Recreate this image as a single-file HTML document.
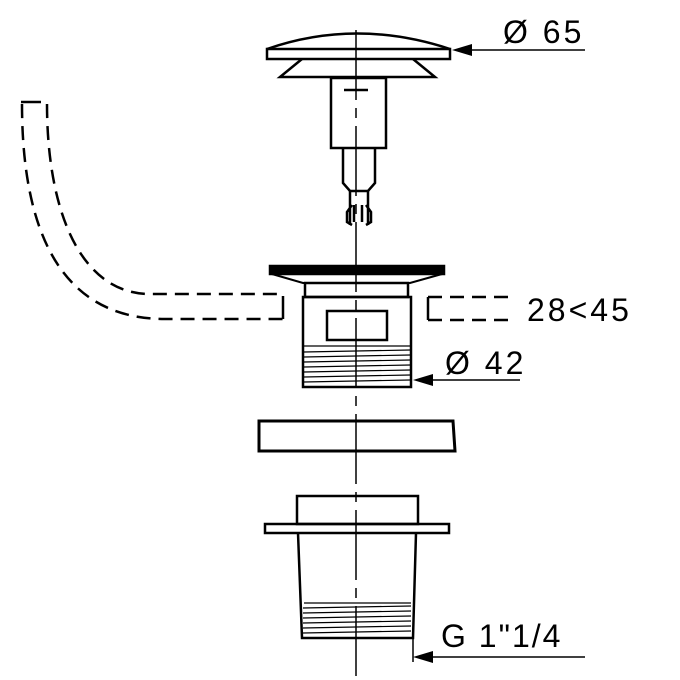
<html><head><style>body{margin:0;background:#fff}</style></head><body>
<svg width="680" height="680" viewBox="0 0 680 680" xmlns="http://www.w3.org/2000/svg" font-family="Liberation Sans, sans-serif">
<g fill="none" stroke="#000" stroke-width="2.5">
<g stroke-dasharray="14,8">
<path d="M22,104 C22,230 60,319 165,319 L283,319"/>
<path d="M47,104 C47,210 80,294 150,294 L283,294"/>
<path d="M283,296 L283,319" stroke-dasharray="none"/>
<path d="M21,102 L41,102" stroke-dasharray="none"/>
<path d="M428,297 L515,297 M428,320 L515,320"/>
<path d="M428,297 L428,320" stroke-dasharray="none"/>
</g>
<path d="M267,49 Q356,18 450,49" fill="#fff"/>
<rect x="267" y="49" width="183" height="10" fill="#fff"/>
<path d="M302,59 L280,77 L435,77 L413,59"/>
<rect x="331" y="78" width="55" height="70"/>
<path d="M344,90 L368,90"/>
<path d="M343,148 L343,183 L350,191 L368,191 L375,183 L375,148"/>
<path d="M350,191 L350,225 M368,191 L368,225 M352,205 L347,212 L347,222 L352,225 M366,205 L371,212 L371,222 L366,225 M354,205 L354,222 M362,205 L362,222"/>
<rect x="270" y="266" width="174" height="8" fill="#000"/>
<path d="M272,274 L303,283 L410,283 L442,274" stroke-width="2"/>
<rect x="305" y="283" width="103" height="14"/>
<rect x="303" y="297" width="108" height="90"/>
<rect x="327" y="311" width="60" height="29"/>
<g stroke-width="1.2"><path d="M304,346 L410,346 M304,352 L410,350 M304,357 L410,355 M304,362 L410,360 M304,367 L410,365 M304,372 L410,370 M304,377 L410,375 M304,382 L410,380"/></g>
<path d="M259,421 L453,421 L455,451 L259,451 Z" stroke-width="3"/>
<rect x="297" y="496" width="121" height="28"/>
<rect x="265" y="524" width="184" height="9"/>
<path d="M298,533 L302,638 L413,638 L416,533"/>
<g stroke-width="1.2"><path d="M304,603 L411,603 M303,608 L411,606 M303,613 L411,611 M303,618 L411,616 M303,623 L411,621 M303,628 L411,626 M303,633 L411,631"/></g>
<path d="M356,30 L356,680" stroke-width="1.5" stroke-dasharray="70,8,10,8"/>
<path d="M470,50 L585,50 M430,380 L520,380 M430,657 L585,657 M413,638 L413,662" stroke-width="1.5"/>
</g>
<g fill="#000">
<path d="M452,50 L472,44 L472,56 Z"/>
<path d="M413,380 L433,374 L433,386 Z"/>
<path d="M413,657 L433,651 L433,663 Z"/>
<g font-size="32" letter-spacing="3">
<text x="503" y="43">Ø 65</text>
<text x="527" y="321">28&lt;45</text>
<text x="445" y="374">Ø 42</text>
<text x="441" y="647" letter-spacing="2">G 1"1/4</text>
</g>
</g>
</svg>
</body></html>
